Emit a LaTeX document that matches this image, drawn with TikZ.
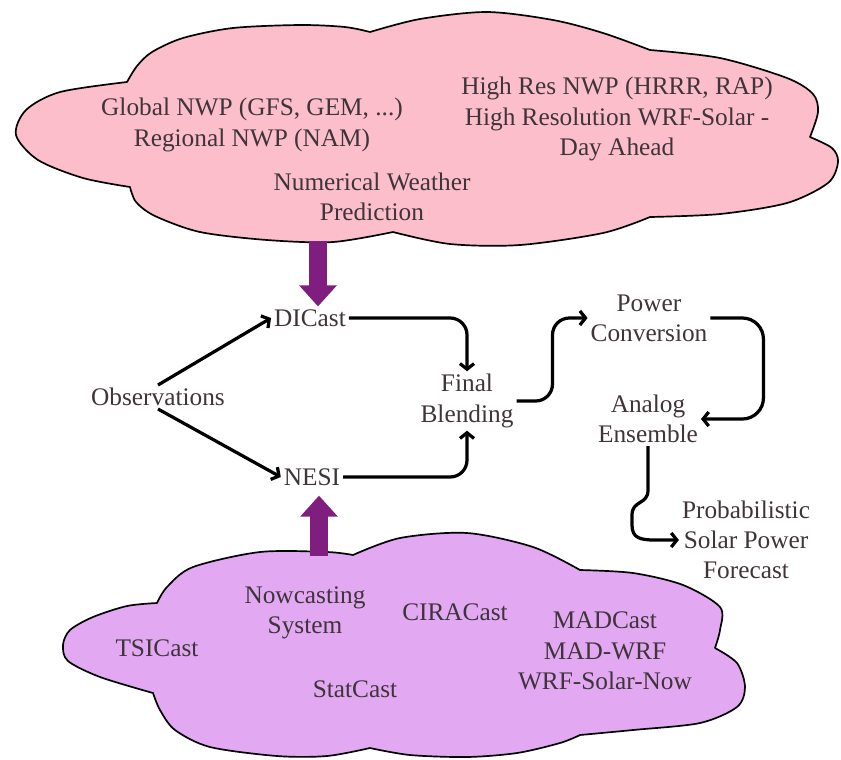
\documentclass[tikz,border=0pt]{standalone}
\usepackage{fontspec}
\setmainfont{LiberationSerif}[Extension=.ttf, UprightFont=*-Regular, BoldFont=*-Bold]
\usepackage{xcolor}
\usepackage{tikz}
\usetikzlibrary{arrows.meta}
\usetikzlibrary{positioning}

\definecolor{nwppink}{RGB}{252,190,202}
\definecolor{nowlilac}{RGB}{226,168,242}
\definecolor{bigpurple}{RGB}{128,30,128}
\definecolor{labelgray}{RGB}{62,52,58}

\tikzset{
    lbl/.style={align=center, inner sep=2pt, text=labelgray, font=\fontsize{18}{21.5}\selectfont},
    flow/.style={line width=2.3pt, rounded corners=12pt, -{Straight Barb[length=4pt,width=10pt]}},
    bigarrow/.style={bigpurple, line width=13pt, -{Triangle[length=15pt,width=26pt]}},
    cloudline/.style={draw=black, line width=1.2pt, line join=round}
}

\begin{document}
\begin{tikzpicture}[x=0.025cm, y=-0.025cm]
        \useasboundingbox (0,0) rectangle (841,759);
        \filldraw[cloudline, fill=nwppink] (130,187)
            -- plot[smooth] coordinates {(130,187) (83,178) (38,160) (16,135) (26,110) (60,92) (127,82)}
            -- plot[smooth] coordinates {(127,82) (137,66) (152,52) (183,38) (233,28) (300,25) (345,27) (370,32)}
            -- plot[smooth] coordinates {(370,32) (420,19) (487,12) (553,20) (603,33) (650,50)}
            -- plot[smooth] coordinates {(650,50) (720,58) (787,78) (813,94) (818,112) (810,137)}
            -- plot[smooth] coordinates {(810,137) (832,148) (838,162) (828,183) (787,203) (720,214) (650,217)}
            -- plot[smooth] coordinates {(650,217) (603,233) (520,245) (450,244) (393,232)}
            -- plot[smooth] coordinates {(393,232) (333,242) (267,240) (200,232) (155,216) (136,202) (130,187)}
            -- cycle;
        \filldraw[cloudline, fill=nowlilac] (157,603)
            -- plot[smooth] coordinates {(157,603) (127,606) (93,617) (70,630) (63,645) (68,661) (100,677) (153,693)}
            -- plot[smooth] coordinates {(153,693) (160,710) (175,730) (210,747) (277,756) (327,756) (370,748)}
            -- plot[smooth] coordinates {(370,748) (410,755) (467,757) (517,753) (560,743) (580,735)}
            -- plot[smooth] coordinates {(580,735) (633,730) (700,723) (737,707) (745,687) (737,663) (715,648)}
            -- plot[smooth] coordinates {(715,648) (720,630) (720,607) (683,585) (633,573) (580,570)}
            -- plot[smooth] coordinates {(580,570) (533,547) (467,533) (400,538) (353,555)}
            -- plot[smooth] coordinates {(353,555) (327,552) (260,552) (193,567) (167,587) (157,603)}
            -- cycle;

        \node[lbl] (globalnwp) at (252,125) {Global NWP (GFS, GEM, ...)\\Regional NWP (NAM)};
        \node[lbl] (highres) at (617,119) {High Res NWP (HRRR, RAP)\\High Resolution WRF-Solar -\\Day Ahead};
        \node[lbl] (numweather) at (372,197) {Numerical Weather\\Prediction};

        \node[lbl] (dicast) at (310,318) {DICast};
        \node[lbl] (obs) at (158,397) {Observations};
        \node[lbl] (nesi) at (312,477) {NESI};
        \node[lbl] (final) at (467,401) {Final\\Blending};
        \node[lbl] (power) at (649,318) {Power\\Conversion};
        \node[lbl] (analog) at (648,419) {Analog\\Ensemble};
        \node[lbl] (prob) at (746,540) {Probabilistic\\Solar Power\\Forecast};

        \node[lbl] (nowcast) at (305,613) {Nowcasting\\System};
        \node[lbl] (tsicast) at (157,648) {TSICast};
        \node[lbl] (ciracast) at (455,612) {CIRACast};
        \node[lbl] (statcast) at (355,689) {StatCast};
        \node[lbl] (madcast) at (605,651) {MADCast\\MAD-WRF\\WRF-Solar-Now};

        \coordinate (nwpbase) at (318,241);
        \coordinate (nowbase) at (319,556);
        \draw[bigarrow] (nwpbase) -- (nwpbase |- dicast.north);
        \draw[bigarrow, shorten >=5pt] (nowbase) -- (nowbase |- nesi.south);

        \draw[flow] (obs.north) -- (dicast.west);
        \draw[flow] (obs.south) -- (nesi.west);
        \draw[flow] (dicast.east) -| (final.north);
        \draw[flow] (nesi.east) -| (final.south);
        \draw[flow] (final.east) -- ++(36,0) |- (power.west);
        \draw[flow, rounded corners=15pt] (power.east) -- ++(53,0) |- (analog.east);
        \draw[flow, sharp corners] (analog.south) -- (648,490) .. controls (648,505) and (632,500) .. (632,515) -- (632,525) .. controls (632,538) and (640,540) .. (655,540) -- (prob.west);
\end{tikzpicture}
\end{document}
